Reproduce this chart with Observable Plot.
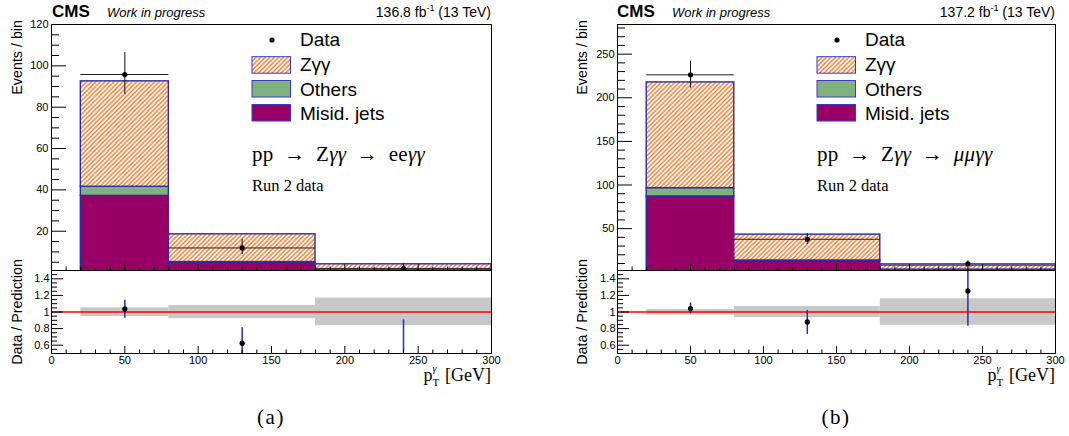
<!DOCTYPE html>
<html><head><meta charset="utf-8">
<script src="https://cdn.jsdelivr.net/npm/d3@7"></script>
<script src="https://cdn.jsdelivr.net/npm/@observablehq/plot@0.6"></script>
<style>
html,body{margin:0;padding:0;background:#fff;}
#fig{position:relative;width:1069px;height:436px;overflow:hidden;background:#fff;font-family:"Liberation Sans",Arial,sans-serif;}
</style></head><body>
<svg width="0" height="0" style="position:absolute">
<defs>
<pattern id="hatch" patternUnits="userSpaceOnUse" width="3.2" height="3.2" patternTransform="rotate(45)">
<rect width="3.2" height="3.2" fill="#ffffff"/>
<line x1="0.8" y1="-1" x2="0.8" y2="4.2" stroke="#ff7a2a" stroke-width="1.4"/>
</pattern>
</defs></svg>
<div id="fig"></div>
<script>
// ---- data ----
const components = ["Misid. jets", "Others", "Zγγ"];
const componentColors = ["#990066", "#80b27f", "url(#hatch)"];
const binLow = [20, 80, 180];
const binHigh = [80, 180, 300];
const binCenter = [50, 130, 240];

// (a) ee channel
const eeMisid = [37.1, 4.4, 0.8];
const eeOthers = [4.4, 0.7, 0.3];
const eeZgg = [51.0, 13.4, 2.9];
const eeData = [95.8, 11.9, 1.9];
const eeDataLow = [86.1, 8.7, 0.3];
const eeDataHigh = [106.4, 16.1, 4.3];
const eeRatio = [1.037, 0.625, 0.475];
const eeRatioLow = [0.926, 0.40, 0.0];
const eeRatioHigh = [1.143, 0.81, 0.905];
const eeBandLow = [0.946, 0.92, 0.835];
const eeBandHigh = [1.05, 1.078, 1.168];

// (b) mumu channel
const mmMisid = [86.9, 12.6, 2.5];
const mmOthers = [9.5, 0.9, 0.5];
const mmZgg = [121.2, 29.6, 4.7];
const mmData = [226.3, 37.8, 9.7];
const mmDataLow = [211.0, 31.7, 6.5];
const mmDataHigh = [242.0, 44.3, 13.0];
const mmRatio = [1.04, 0.88, 1.254];
const mmRatioLow = [0.975, 0.73, 0.827];
const mmRatioHigh = [1.11, 1.02, 1.68];
const mmBandLow = [0.963, 0.933, 0.84];
const mmBandHigh = [1.03, 1.065, 1.16];

// ticks
const xTicksMajor = [0, 50, 100, 150, 200, 250, 300];
const xTicksMinor = [10, 20, 30, 40, 60, 70, 80, 90, 110, 120, 130, 140, 160, 170, 180, 190, 210, 220, 230, 240, 260, 270, 280, 290];
const eeYTicksMajor = [20, 40, 60, 80, 100, 120];
const eeYTicksMinor = [5, 10, 15, 25, 30, 35, 45, 50, 55, 65, 70, 75, 85, 90, 95, 105, 110, 115];
const mmYTicksMajor = [50, 100, 150, 200, 250];
const mmYTicksMinor = [10, 20, 30, 40, 60, 70, 80, 90, 110, 120, 130, 140, 160, 170, 180, 190, 210, 220, 230, 240, 260, 270, 280];
const ratioTicksMajor = [0.6, 0.8, 1, 1.2, 1.4];
const ratioTicksMinor = [0.55, 0.65, 0.7, 0.75, 0.85, 0.9, 0.95, 1.05, 1.1, 1.15, 1.25, 1.3, 1.35, 1.45];

const panels = [
  {left: 0, mr: 9, yDomain: [1, 120], stack: [eeMisid, eeOthers, eeZgg], data: eeData, dataLow: eeDataLow, dataHigh: eeDataHigh,
   ratio: eeRatio, ratioLow: eeRatioLow, ratioHigh: eeRatioHigh, bandLow: eeBandLow, bandHigh: eeBandHigh,
   yMajor: eeYTicksMajor, yMinor: eeYTicksMinor},
  {left: 566, mr: 11, yDomain: [2, 284], stack: [mmMisid, mmOthers, mmZgg], data: mmData, dataLow: mmDataLow, dataHigh: mmDataHigh,
   ratio: mmRatio, ratioLow: mmRatioLow, ratioHigh: mmRatioHigh, bandLow: mmBandLow, bandHigh: mmBandHigh,
   yMajor: mmYTicksMajor, yMinor: mmYTicksMinor}
];

const fig = document.getElementById("fig");
const plotStyle = {fontFamily: "'Liberation Sans', Arial, sans-serif", fontSize: "11px", color: "black", background: "transparent", overflow: "visible"};
const fmt = d => String(+(+d).toFixed(2));

for (const p of panels) {
  const rows = [];
  components.forEach((c, k) => p.stack[k].forEach((v, i) => rows.push({comp: c, lo: binLow[i], hi: binHigh[i], v})));
  const pts = binCenter.map((x, i) => ({x, lo: binLow[i], hi: binHigh[i], y: p.data[i], y1: p.dataLow[i], y2: p.dataHigh[i],
    r: p.ratio[i], r1: p.ratioLow[i], r2: p.ratioHigh[i], b1: p.bandLow[i], b2: p.bandHigh[i]}));

  const upper = Plot.plot({
    width: 500, height: 272, marginLeft: 51, marginRight: p.mr, marginTop: 24, marginBottom: 2,
    x: {domain: [0, 300]}, y: {domain: p.yDomain},
    color: {domain: components, range: componentColors},
    style: plotStyle,
    marks: [
      Plot.rectY(rows, {x1: "lo", x2: "hi", y: "v", fill: "comp", stroke: "#2a2aa8", strokeWidth: 1.4, clip: true}),
      Plot.ruleY(pts, {y: "y", x1: "lo", x2: "hi", stroke: "#222", strokeWidth: 1, clip: true}),
      Plot.ruleX(pts, {x: "x", y1: "y1", y2: "y2", stroke: "#111", strokeWidth: 1, clip: true}),
      Plot.dot(pts, {x: "x", y: "y", r: 2.6, fill: "black", stroke: "none", clip: true}),
      Plot.axisY({ticks: p.yMajor, tickSize: 15, dx: 15, tickPadding: 3, label: null, tickFormat: fmt}),
      Plot.axisY({ticks: p.yMinor, tickSize: 8, dx: 8, fill: "none", label: null}),
      Plot.axisX({ticks: xTicksMajor, tickSize: 6, dy: -6, fill: "none", label: null}),
      Plot.axisX({ticks: xTicksMinor, tickSize: 3.5, dy: -3.5, fill: "none", label: null}),
      Plot.frame({stroke: "#000"})
    ]
  });
  upper.style.position = "absolute";
  upper.style.left = p.left + "px";
  upper.style.top = "0px";
  fig.appendChild(upper);

  const lower = Plot.plot({
    width: 500, height: 103, marginLeft: 51, marginRight: p.mr, marginTop: 5, marginBottom: 15,
    x: {domain: [0, 300]}, y: {domain: [0.5, 1.5]},
    style: plotStyle,
    marks: [
      Plot.rect(pts, {x1: "lo", x2: "hi", y1: "b1", y2: "b2", fill: "#c8c8c8", clip: true}),
      Plot.ruleY([1], {stroke: "#ff0000", strokeWidth: 1.3}),
      Plot.ruleX(pts, {x: "x", y1: "r1", y2: "r2", stroke: "#2b2bb0", strokeWidth: 1.5, clip: true}),
      Plot.dot(pts, {x: "x", y: "r", r: 2.6, fill: "black", stroke: "none", clip: true}),
      Plot.axisY({ticks: ratioTicksMajor, tickSize: 12, dx: 12, tickPadding: 2, label: null, tickFormat: fmt}),
      Plot.axisY({ticks: ratioTicksMinor, tickSize: 6, dx: 6, fill: "none", label: null}),
      Plot.axisX({ticks: xTicksMajor, tickSize: 7, dy: -7, tickPadding: 3, label: null, tickFormat: fmt}),
      Plot.axisX({ticks: xTicksMinor, tickSize: 3.5, dy: -3.5, fill: "none", label: null}),
      Plot.frame({stroke: "#000"})
    ]
  });
  lower.style.position = "absolute";
  lower.style.left = p.left + "px";
  lower.style.top = "265px";
  fig.appendChild(lower);
}

// ---- text overlay ----
const ov = d3.select("#fig").append("svg")
  .attr("width", 1069).attr("height", 436)
  .style("position", "absolute").style("left", "0px").style("top", "0px")
  .style("font-family", "'Liberation Sans', Arial, sans-serif");

const serif = "'Liberation Serif', 'Times New Roman', serif";
const texts = [
  {ox: 0, frameR: 491, lumi: "136.8", chan: "ee", cap: "(a)", capX: 271},
  {ox: 565, frameR: 1055, lumi: "137.2", chan: "μμ", cap: "(b)", capX: 836}
];
for (const t of texts) {
  const ox = t.ox;
  ov.append("text").attr("x", 52 + ox).attr("y", 16.5).attr("font-weight", "bold").attr("font-size", 17).text("CMS");
  ov.append("text").attr("x", 107 + ox).attr("y", 16.5).attr("font-style", "italic").attr("font-size", 13).text("Work in progress");
  const lt = ov.append("text").attr("x", t.frameR).attr("y", 16.5).attr("text-anchor", "end").attr("font-size", 14);
  lt.append("tspan").text(t.lumi + " fb");
  lt.append("tspan").attr("font-size", 9).attr("dy", -6).text("-1");
  lt.append("tspan").attr("dy", 6).text(" (13 TeV)");

  // legend
  ov.append("circle").attr("cx", 272 + ox).attr("cy", 40).attr("r", 2.6).attr("fill", "black");
  ov.append("text").attr("x", 300 + ox).attr("y", 45.7).attr("font-size", 19).text("Data");
  const boxes = [
    {y: 56.7, fill: "url(#hatch)", label: "Zγγ", base: 71},
    {y: 80.5, fill: "#80b27f", label: "Others", base: 96},
    {y: 104.5, fill: "#990066", label: "Misid. jets", base: 119.5}
  ];
  for (const b of boxes) {
    ov.append("rect").attr("x", 252 + ox).attr("y", b.y).attr("width", 38.5).attr("height", 16.5)
      .attr("fill", b.fill).attr("stroke", "#3a3ac0").attr("stroke-width", 1);
    ov.append("text").attr("x", 300 + ox).attr("y", b.base).attr("font-size", 19).text(b.label);
  }

  // process label
  const pr = ov.append("text").attr("x", 252 + ox).attr("y", 161).attr("font-family", serif)
    .attr("font-size", 21).attr("letter-spacing", 0.3).attr("word-spacing", 5);
  pr.append("tspan").text("pp → Z");
  pr.append("tspan").attr("font-style", "italic").text("γγ");
  pr.append("tspan").text(" → ");
  pr.append("tspan").attr("font-style", t.chan === "ee" ? "normal" : "italic").text(t.chan);
  pr.append("tspan").attr("font-style", "italic").text("γγ");
  ov.append("text").attr("x", 252 + ox).attr("y", 191).attr("font-family", serif).attr("font-size", 16.5).text("Run 2 data");

  // axis titles
  ov.append("text").attr("transform", `translate(${22 + ox},20) rotate(-90)`).attr("text-anchor", "end").attr("font-size", 14.3).text("Events / bin");
  ov.append("text").attr("transform", `translate(${22 + ox},312) rotate(-90)`).attr("text-anchor", "middle").attr("font-size", 14.3).text("Data / Prediction");

  const xl = ov.append("text").attr("x", t.frameR).attr("y", 381).attr("text-anchor", "end")
    .attr("font-family", serif).attr("font-size", 18);
  xl.append("tspan").text("p");
  xl.append("tspan").attr("font-size", 11).attr("dy", 5).text("T");
  xl.append("tspan").attr("font-size", 10).attr("font-style", "italic").attr("dx", -6.7).attr("dy", -14).text("γ");
  xl.append("tspan").attr("dx", 4).attr("dy", 9).text(" [GeV]");

  // caption
  ov.append("text").attr("x", t.capX).attr("y", 424).attr("text-anchor", "middle")
    .attr("font-family", serif).attr("font-size", 21).attr("letter-spacing", 1.5).text(t.cap);
}
</script>
</body></html>
